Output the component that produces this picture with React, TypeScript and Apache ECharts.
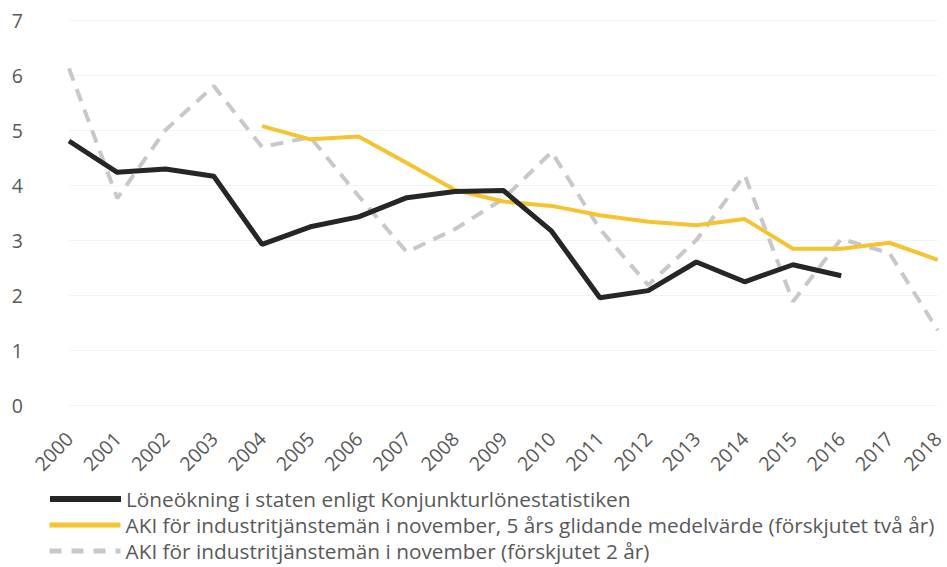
import React, { useEffect, useRef } from "react";
import * as echarts from "echarts";

const years = ["2000","2001","2002","2003","2004","2005","2006","2007","2008","2009","2010","2011","2012","2013","2014","2015","2016","2017","2018"];
const loneokning = [4.8, 4.23, 4.29, 4.16, 2.92, 3.24, 3.42, 3.77, 3.88, 3.9, 3.16, 1.95, 2.08, 2.6, 2.24, 2.55, 2.35, null, null];
const akiGlidande = [null, null, null, null, 5.07, 4.83, 4.88, 4.4, 3.91, 3.7, 3.62, 3.45, 3.33, 3.27, 3.38, 2.84, 2.84, 2.95, 2.64];
const akiNovember = [6.12, 3.76, 5.0, 5.8, 4.69, 4.87, 3.8, 2.78, 3.2, 3.75, 4.6, 3.2, 2.18, 3.0, 4.18, 1.88, 3.02, 2.76, 1.36];
const yTicks = [0, 1, 2, 3, 4, 5, 6, 7];

const names = [
  "Löneökning i staten enligt Konjunkturlönestatistiken",
  "AKI för industritjänstemän i november, 5 års glidande medelvärde (förskjutet två år)",
  "AKI för industritjänstemän i november (förskjutet 2 år)",
];

const colors = ["#262626", "#f5c330", "#c8c8cc"];
const FONT = "'Open Sans', Lato, sans-serif";

const legendLines = [
  { width: 6, color: colors[0] },
  { width: 5, color: colors[1] },
  { width: 5, color: colors[2], type: [12, 10] },
];
const legendTops = [487, 513, 539];

export default function App() {
  const ref = useRef<HTMLDivElement>(null);
  useEffect(() => {
    if (!ref.current) return;
    const chart = echarts.init(ref.current, undefined, { renderer: "svg" });
    chart.setOption({
      animation: false,
      backgroundColor: "#ffffff",
      textStyle: { fontFamily: FONT },
      grid: { left: 69, right: 5, top: 20, bottom: 162, containLabel: false },
      xAxis: {
        type: "category",
        data: years,
        boundaryGap: false,
        axisLine: { show: false },
        axisTick: { show: false },
        axisLabel: {
          rotate: 46,
          margin: 30,
          fontSize: 19.5,
          color: "#595959",
          fontFamily: FONT,
          interval: 0,
        },
        splitLine: { show: false },
      },
      yAxis: {
        type: "value",
        min: yTicks[0],
        max: yTicks[yTicks.length - 1],
        interval: 1,
        axisLine: { show: false },
        axisTick: { show: false },
        axisLabel: { margin: 46, fontSize: 19.5, color: "#595959", fontFamily: FONT },
        splitLine: { lineStyle: { color: "#f3f3f3", width: 1 } },
      },
      legend: names.map((n, i) => ({
        orient: "horizontal",
        left: 47,
        top: legendTops[i],
        padding: 0,
        itemWidth: 71,
        itemHeight: 14,
        itemStyle: { opacity: 0 },
        textStyle: { fontSize: 20.8, lineHeight: 24, color: "#595959", fontFamily: FONT },
        data: [{ name: n, lineStyle: legendLines[i], itemStyle: { opacity: 0 } }],
      })),
      series: [
        {
          name: names[0],
          type: "line",
          data: loneokning,
          symbol: "none",
          lineStyle: { color: colors[0], width: 5 },
          itemStyle: { color: colors[0] },
          z: 3,
        },
        {
          name: names[1],
          type: "line",
          data: akiGlidande,
          symbol: "none",
          lineStyle: { color: colors[1], width: 4 },
          itemStyle: { color: colors[1] },
          z: 2,
        },
        {
          name: names[2],
          type: "line",
          data: akiNovember,
          symbol: "none",
          lineStyle: { color: colors[2], width: 4, type: [13, 9] },
          itemStyle: { color: colors[2] },
          z: 1,
        },
      ],
    });
    return () => chart.dispose();
  }, []);
  return <div ref={ref} style={{ width: 947, height: 567, position: "absolute", left: 0, top: 0 }} />;
}
